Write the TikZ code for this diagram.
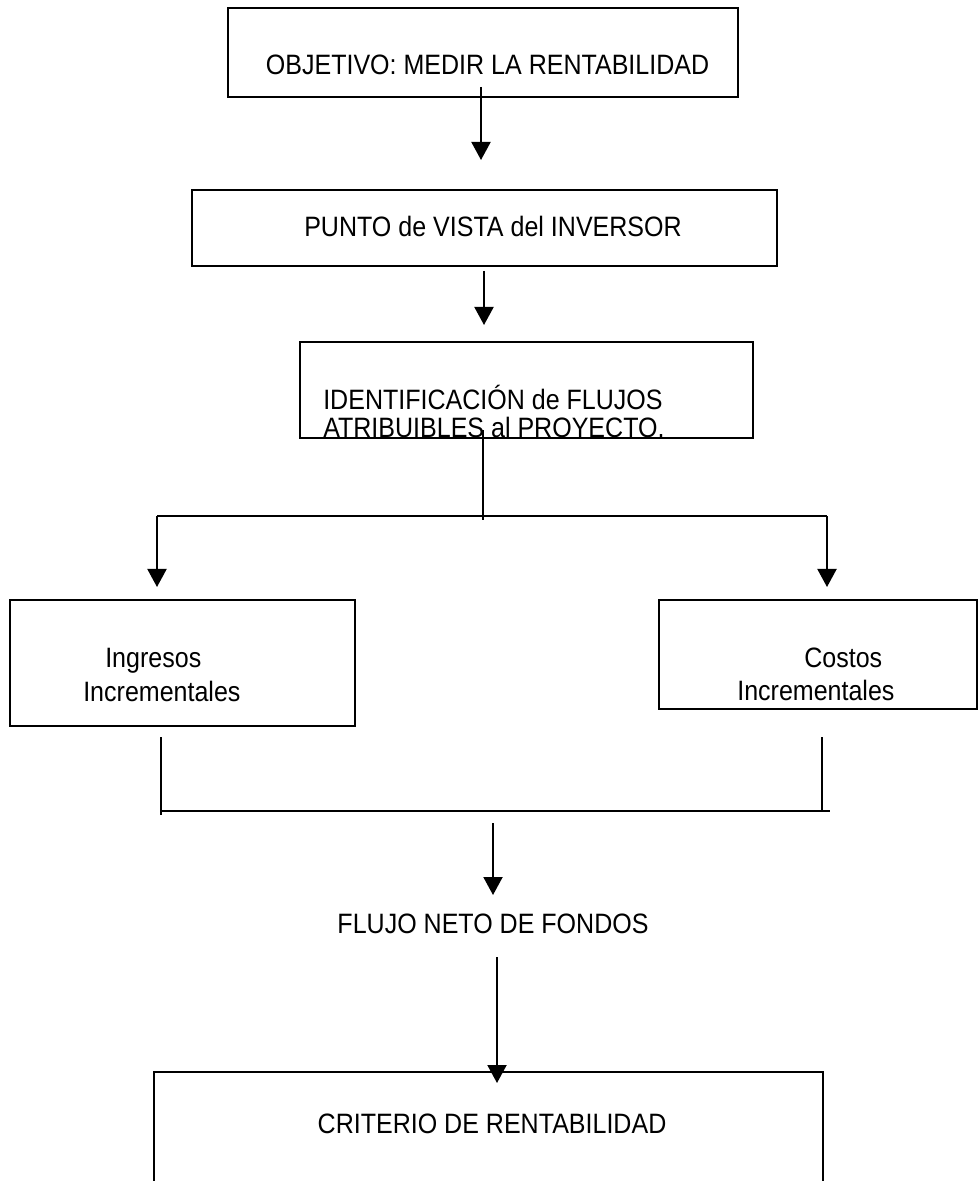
\documentclass[tikz,border=0pt]{standalone}
\usepackage{fontspec}
\setmainfont{Liberation Sans}
\usetikzlibrary{arrows.meta,fit}
\newcommand{\tall}[1]{\scalebox{1}[1.12]{#1}}
\begin{document}
\begin{tikzpicture}[x=0.025cm, y=-0.025cm,
    box/.style={draw, line width=0.05cm, inner sep=0pt},
    txt/.style={inner sep=0pt, font=\fontsize{17.8}{21}\selectfont},
    link/.style={line width=0.05cm},
    arr/.style={link, -{Triangle[width=0.475cm, length=0.45cm]}}]
    \useasboundingbox (0,0) rectangle (979,1181);
    \clip (0,0) rectangle (979,1181);
    \node[box, fit={(228,8) (738,97)}] (obj) {};
    \node[box, fit={(192,190) (777,266)}] (vista) {};
    \node[box, fit={(300,342) (753,438)}] (ident) {};
    \node[box, fit={(10,600) (355,726)}] (ingr) {};
    \node[box, fit={(659,600) (977,709)}] (cost) {};
    \node[box, fit={(154,1072) (823,1200)}] (crit) {};
    \node[txt, anchor=base] (objtxt) at (487.5,75) {\tall{OBJETIVO: MEDIR LA RENTABILIDAD}};
    \node[txt, anchor=base] (vistatxt) at (493,237) {\tall{PUNTO de VISTA del INVERSOR}};
    \node[txt, anchor=base west] (identa) at (323,409) {\tall{IDENTIFICACIÓN de FLUJOS}};
    \node[txt, anchor=base west] (identb) at (323,437) {\tall{ATRIBUIBLES al PROYECTO.}};
    \node[txt, anchor=base west] (ingra) at (105,667) {\tall{Ingresos}};
    \node[txt, anchor=base west] (ingrb) at (83,701) {\tall{Incrementales}};
    \node[txt, anchor=base west] (costa) at (804,667) {\tall{Costos}};
    \node[txt, anchor=base west] (costb) at (737,700) {\tall{Incrementales}};
    \node[txt, anchor=base] (flujo) at (493,933) {\tall{FLUJO NETO DE FONDOS}};
    \node[txt, anchor=base] (crittxt) at (492,1133) {\tall{CRITERIO DE RENTABILIDAD}};
    \coordinate (objout) at (481,87);
    \coordinate (vistain) at (481,160);
    \coordinate (vistaout) at (484,271);
    \coordinate (identin) at (484,325);
    \coordinate (identout) at (483,430);
    \coordinate (splitend) at (483,520);
    \coordinate (splitl) at (157,516);
    \coordinate (splitr) at (827,516);
    \coordinate (ingrin) at (157,587);
    \coordinate (costin) at (827,587);
    \coordinate (ingrout) at (161,737);
    \coordinate (joinl) at (161,815);
    \coordinate (costout) at (822,737);
    \coordinate (joinr) at (822,811);
    \coordinate (joinend) at (830,811);
    \coordinate (joinout) at (493,823);
    \coordinate (flujoin) at (493,895);
    \coordinate (flujoout) at (497,957);
    \coordinate (critin) at (497,1083);
    \draw[arr] (objout) -- (vistain);
    \draw[arr] (vistaout) -- (identin);
    \draw[link] (identout) -- (splitend);
    \draw[link] (splitl) -- (splitr);
    \draw[arr] (splitl) -- (ingrin);
    \draw[arr] (splitr) -- (costin);
    \draw[link] (ingrout) -- (joinl);
    \draw[link] (costout) -- (joinr);
    \draw[link] (joinl |- joinr) -- (joinend);
    \draw[arr] (joinout) -- (flujoin);
    \draw[arr] (flujoout) -- (critin);
\end{tikzpicture}
\end{document}
